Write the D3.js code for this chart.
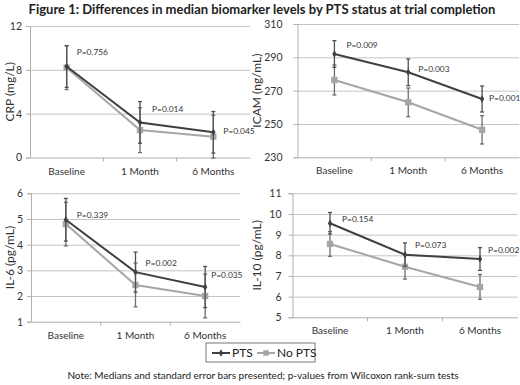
<!DOCTYPE html>
<html>
<head>
<meta charset="utf-8">
<script src="https://cdn.jsdelivr.net/npm/d3@7"></script>
<style>
  body { margin: 0; background: #fff; }
  svg { font-family: Lato, "Open Sans", sans-serif; }
</style>
</head>
<body>
<svg id="chart" width="520" height="385"></svg>
<script>
// --- Data ---
const categories = ["Baseline", "1 Month", "6 Months"];

const crpPts = [8.3, 3.2, 2.3];
const crpPtsErr = [1.9, 1.9, 1.9];
const crpNoPts = [8.2, 2.5, 1.9];
const crpNoPtsErr = [2.0, 2.05, 1.95];
const crpP = ["P=0.756", "P=0.014", "P=0.045"];

const icamPts = [292, 281, 265];
const icamPtsErr = [8, 8, 7.8];
const icamNoPts = [276.4, 263, 246.5];
const icamNoPtsErr = [9, 8.6, 8.5];
const icamP = ["P=0.009", "P=0.003", "P=0.001"];

const il6Pts = [4.97, 2.93, 2.35];
const il6PtsErr = [0.83, 0.78, 0.8];
const il6NoPts = [4.8, 2.43, 2.0];
const il6NoPtsErr = [0.85, 0.85, 0.85];
const il6P = ["P=0.339", "P=0.002", "P=0.035"];

const il10Pts = [9.55, 8.03, 7.82];
const il10PtsErr = [0.52, 0.57, 0.55];
const il10NoPts = [8.55, 7.45, 6.47];
const il10NoPtsErr = [0.6, 0.6, 0.6];
const il10P = ["P=0.154", "P=0.073", "P=0.002"];

const crpTicks = [0, 4, 8, 12];
const icamTicks = [230, 250, 270, 290, 310];
const il6Ticks = [1, 2, 3, 4, 5, 6];
const il10Ticks = [5, 6, 7, 8, 9, 10, 11];

// --- Layout ---
const panels = [
  { title: "CRP (mg/L)", pts: crpPts, ptsErr: crpPtsErr, noPts: crpNoPts, noPtsErr: crpNoPtsErr,
    p: crpP, ticks: crpTicks, x0: 30, x1: 250, y0: 157.5, y1: 26, titleX: 10, pad: 4,
    pOff: [[10, -14], [12, -13], [10, -1]] },
  { title: "ICAM (ng/mL)", pts: icamPts, ptsErr: icamPtsErr, noPts: icamNoPts, noPtsErr: icamNoPtsErr,
    p: icamP, ticks: icamTicks, x0: 297.5, x1: 519, y0: 157.3, y1: 24, titleX: 257, pad: 11,
    pOff: [[12, -9], [10, -3], [7, -1]] },
  { title: "IL-6 (pg/mL)", pts: il6Pts, ptsErr: il6PtsErr, noPts: il6NoPts, noPtsErr: il6NoPtsErr,
    p: il6P, ticks: il6Ticks, x0: 31, x1: 240, y0: 321.7, y1: 193.3, titleX: 10, pad: 4,
    pOff: [[11, -5], [10, -9], [6, -12]] },
  { title: "IL-10 (pg/mL)", pts: il10Pts, ptsErr: il10PtsErr, noPts: il10NoPts, noPtsErr: il10NoPtsErr,
    p: il10P, ticks: il10Ticks, x0: 292.5, x1: 517.5, y0: 317.3, y1: 193.3, titleX: 257, pad: 7,
    pOff: [[12, -4], [10, -10], [8, -9]] }
];

const ptsColor = "#404040";
const noPtsColor = "#a6a6a6";
const gridColor = "#c4c4c4";
const axisColor = "#b0b0b0";
const textColor = "#333";

const svg = d3.select("#chart");

svg.append("text")
  .attr("x", 262).attr("y", 14)
  .attr("text-anchor", "middle")
  .attr("font-size", "13px").attr("font-weight", "bold")
  .attr("fill", "#222")
  .text("Figure 1: Differences in median biomarker levels by PTS status at trial completion");

panels.forEach(pn => {
  const x = d3.scaleBand().domain(categories).range([pn.x0, pn.x1]);
  const y = d3.scaleLinear().domain(d3.extent(pn.ticks)).range([pn.y0, pn.y1]);
  const cx = c => x(c) + x.bandwidth() / 2;

  const g = svg.append("g");

  // gridlines
  g.append("g")
    .attr("transform", `translate(${pn.x0},0)`)
    .call(d3.axisLeft(y).tickValues(pn.ticks.slice(1)).tickSize(-(pn.x1 - pn.x0)).tickFormat(""))
    .call(a => a.select(".domain").remove())
    .selectAll("line").attr("stroke", gridColor);

  // y axis
  g.append("g")
    .attr("transform", `translate(${pn.x0},0)`)
    .call(d3.axisLeft(y).tickValues(pn.ticks).tickSize(4).tickPadding(pn.pad).tickFormat(d3.format("d")))
    .call(a => a.select(".domain").attr("stroke", axisColor))
    .call(a => a.selectAll("line").attr("stroke", axisColor))
    .selectAll("text")
    .attr("font-size", "10.5px").attr("fill", textColor).attr("font-family", "Lato, sans-serif");

  // x axis
  const xa = g.append("g")
    .attr("transform", `translate(0,${pn.y0})`)
    .call(d3.axisBottom(x).tickSize(0).tickPadding(10));
  xa.select(".domain").attr("stroke", axisColor);
  xa.selectAll("text").attr("font-size", "10px").attr("fill", textColor).attr("font-family", "Lato, sans-serif");
  xa.selectAll(".sep")
    .data(categories.slice(1))
    .join("line")
    .attr("x1", d => x(d)).attr("x2", d => x(d))
    .attr("y1", 0).attr("y2", 4)
    .attr("stroke", axisColor);

  // y title
  g.append("text")
    .attr("transform", `translate(${pn.titleX},${(pn.y0 + pn.y1) / 2}) rotate(-90)`)
    .attr("text-anchor", "middle").attr("dy", "0.35em")
    .attr("font-size", "12px").attr("fill", textColor)
    .text(pn.title);

  const series = [
    { vals: pn.noPts, err: pn.noPtsErr, color: noPtsColor, barColor: "#6e6e6e", marker: "square" },
    { vals: pn.pts, err: pn.ptsErr, color: ptsColor, barColor: "#505050", marker: "diamond" }
  ];

  series.forEach(s => {
    const rows = categories.map((c, i) => ({ c, v: s.vals[i], e: s.err[i] }));
    // error bars
    const eb = g.append("g").attr("stroke", s.barColor).attr("stroke-width", 1.3);
    eb.selectAll(".v").data(rows).join("line")
      .attr("x1", d => cx(d.c)).attr("x2", d => cx(d.c))
      .attr("y1", d => y(d.v - d.e)).attr("y2", d => y(d.v + d.e));
    eb.selectAll(".t").data(rows.flatMap(d => [d.v - d.e, d.v + d.e].map(v => ({ c: d.c, v })))).join("line")
      .attr("x1", d => cx(d.c) - 2).attr("x2", d => cx(d.c) + 2)
      .attr("y1", d => y(d.v)).attr("y2", d => y(d.v));
    // line
    g.append("path")
      .datum(rows)
      .attr("fill", "none").attr("stroke", s.color).attr("stroke-width", 2)
      .attr("d", d3.line().x(d => cx(d.c)).y(d => y(d.v)));
    // markers
    g.selectAll(null).data(rows).join("path")
      .attr("transform", d => `translate(${cx(d.c)},${y(d.v)})`)
      .attr("fill", s.color)
      .attr("d", d3.symbol().type(s.marker === "square" ? d3.symbolSquare : d3.symbolDiamond)
        .size(s.marker === "square" ? 40 : 16));
  });

  // p-value labels
  g.selectAll(null).data(categories).join("text")
    .attr("x", (c, i) => cx(c) + pn.pOff[i][0])
    .attr("y", (c, i) => y(pn.pts[i]) + pn.pOff[i][1])
    .attr("dy", "0.35em")
    .attr("font-size", "8.4px").attr("fill", textColor)
    .text((c, i) => pn.p[i]);
});

// legend
const legend = svg.append("g").attr("transform", "translate(206,343)");
legend.append("rect").attr("width", 109).attr("height", 19)
  .attr("fill", "#fff").attr("stroke", "#555").attr("stroke-width", 0.8);
const legItems = [
  { label: "PTS", color: ptsColor, sym: d3.symbolDiamond, size: 16, x: 6 },
  { label: "No PTS", color: noPtsColor, sym: d3.symbolSquare, size: 30, x: 51 }
];
legItems.forEach(it => {
  legend.append("line").attr("x1", it.x).attr("x2", it.x + 18).attr("y1", 10).attr("y2", 10)
    .attr("stroke", it.color).attr("stroke-width", 2);
  legend.append("path").attr("transform", `translate(${it.x + 9},10)`)
    .attr("fill", it.color).attr("d", d3.symbol().type(it.sym).size(it.size));
  legend.append("text").attr("x", it.x + 20).attr("y", 10).attr("dy", "0.35em")
    .attr("font-size", "12px").attr("fill", "#222").text(it.label);
});

svg.append("text")
  .attr("x", 263).attr("y", 379)
  .attr("text-anchor", "middle")
  .attr("font-size", "10px").attr("fill", "#222")
  .text("Note: Medians and standard error bars presented; p-values from Wilcoxon rank-sum tests");
</script>
</body>
</html>
